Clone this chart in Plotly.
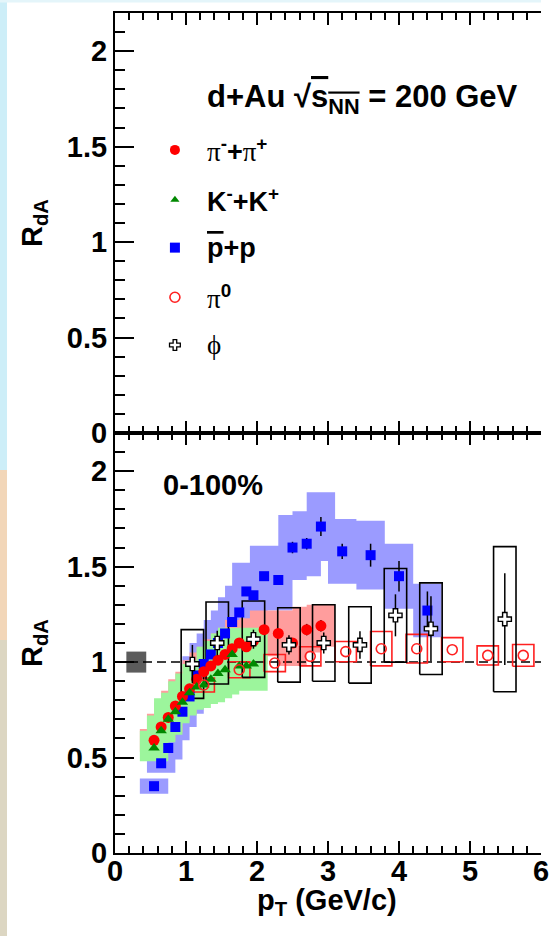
import plotly.graph_objects as go

# ---------------- data ----------------
pi_pt = [0.55, 0.65, 0.75, 0.85, 0.95, 1.05, 1.15, 1.25, 1.35, 1.45, 1.55, 1.65, 1.75, 1.85, 1.95, 2.1, 2.3, 2.5, 2.7, 2.9]
pi_r = [0.59, 0.66, 0.71, 0.77, 0.82, 0.86, 0.91, 0.95, 0.98, 1.01, 1.04, 1.07, 1.10, 1.08, 1.11, 1.17, 1.15, 1.10, 1.17, 1.19]
pi_stat = [0, 0, 0, 0, 0, 0, 0, 0, 0, 0, 0, 0, 0, 0, 0, 0.02, 0.02, 0.02, 0.03, 0.03]
pi_sys = [0.06, 0.07, 0.08, 0.08, 0.09, 0.09, 0.10, 0.10, 0.10, 0.11, 0.11, 0.11, 0.12, 0.12, 0.12, 0.10, 0.12, 0.12, 0.12, 0.11]

k_pt = [0.55, 0.65, 0.75, 0.85, 0.95, 1.05, 1.15, 1.25, 1.35, 1.45, 1.55, 1.65, 1.75, 1.85, 1.95]
k_r = [0.55, 0.64, 0.70, 0.74, 0.79, 0.84, 0.87, 0.88, 0.91, 0.94, 0.96, 1.04, 0.98, 0.98, 0.99]
k_sys_hi = [0.09, 0.08, 0.11, 0.10, 0.11, 0.10, 0.12, 0.13, 0.17, 0.17, 0.19, 0.14, 0.19, 0.20, 0.19]
k_sys_lo = [0.07, 0.06, 0.08, 0.06, 0.07, 0.09, 0.11, 0.10, 0.12, 0.13, 0.13, 0.17, 0.13, 0.13, 0.14]

p_pt = [0.55, 0.65, 0.75, 0.85, 0.95, 1.05, 1.15, 1.25, 1.35, 1.45, 1.55, 1.65, 1.75, 1.85, 1.95, 2.1, 2.3, 2.5, 2.7, 2.9, 3.2, 3.6, 4.0, 4.4]
p_r = [0.35, 0.47, 0.55, 0.66, 0.74, 0.82, 0.93, 0.99, 1.04, 1.10, 1.15, 1.21, 1.26, 1.37, 1.35, 1.45, 1.43, 1.60, 1.62, 1.71, 1.58, 1.56, 1.45, 1.27]
p_stat = [0, 0, 0, 0, 0, 0, 0, 0, 0, 0, 0, 0, 0, 0, 0, 0.02, 0.02, 0.03, 0.03, 0.05, 0.04, 0.06, 0.08, 0.10]
p_sys = [0.04, 0.05, 0.06, 0.07, 0.08, 0.09, 0.10, 0.11, 0.11, 0.12, 0.12, 0.13, 0.14, 0.15, 0.15, 0.16, 0.16, 0.17, 0.17, 0.18, 0.17, 0.18, 0.17, 0.14]

pi0_pt = [1.25, 1.75, 2.25, 2.75, 3.25, 3.75, 4.25, 4.75, 5.25, 5.75]
pi0_r = [0.88, 0.96, 0.995, 1.03, 1.055, 1.07, 1.07, 1.065, 1.035, 1.035]
pi0_sys = [0.037, 0.042, 0.045, 0.05, 0.053, 0.09, 0.075, 0.063, 0.05, 0.057]

phi_pt = [1.09, 1.44, 1.95, 2.45, 2.94, 3.45, 3.95, 4.45, 5.49]
phi_r = [0.99, 1.10, 1.12, 1.09, 1.10, 1.09, 1.245, 1.175, 1.225]
phi_stat = [0.10, 0.064, 0.05, 0.05, 0.055, 0.072, 0.11, 0.17, 0.24]
phi_sys = [0.18, 0.215, 0.20, 0.195, 0.20, 0.20, 0.245, 0.24, 0.38]

norm_x = [0.30]
norm_r = [1.0]
norm_err = [0.055]

SERIF = "<span style='font-family:Liberation Serif;font-weight:normal'>{}</span>"
legend_labels = [
    SERIF.format("π") + "<sup>-</sup>+" + SERIF.format("π") + "<sup>+</sup>",
    "K<sup>-</sup>+K<sup>+</sup>",
    "<span style='text-decoration:overline'>p</span>+p",
    SERIF.format("π") + "<sup>0</sup>",
    SERIF.format("ϕ"),
]
legend_y = [1.483, 1.222, 0.971, 0.711, 0.461]
legend_marker_x = 0.844
legend_text_x = 1.27
title_text = "d+Au √<span style='text-decoration:overline'>s<sub>NN</sub></span> = 200 GeV"
centrality_text = "0-100%"
x_title = "p<sub>T</sub> (GeV/c)"
y_title = "R<sub>dA</sub>"

# ---------------- helpers ----------------
def box_path(xs, ys, lo, hi, hw):
    bx, by = [], []
    for x, y, l, h in zip(xs, ys, lo, hi):
        bx += [x - hw, x + hw, x + hw, x - hw, x - hw, None]
        by += [y - l, y - l, y + h, y + h, y - l, None]
    return bx, by

FONT = "Liberation Sans"
BLUE_BAND = "#9b9bff"
RED_BAND = "#ff9d9d"
GREEN_BAND = "#9cf59c"

fig = go.Figure()

def band(xs, ys, lo, hi, color):
    bx, by = box_path(xs, ys, lo, hi, 0.2)
    fig.add_trace(go.Scatter(x=bx, y=by, xaxis="x2", yaxis="y2", mode="lines",
                             fill="toself", fillcolor=color, line=dict(width=0, color=color),
                             hoverinfo="skip", showlegend=False))

band(p_pt, p_r, p_sys, p_sys, BLUE_BAND)
band(pi_pt, pi_r, pi_sys, pi_sys, RED_BAND)
band(k_pt, k_r, k_sys_lo, k_sys_hi, GREEN_BAND)

# normalization box
nbx, nby = box_path(norm_x, norm_r, norm_err, norm_err, 0.14)
fig.add_trace(go.Scatter(x=nbx, y=nby, xaxis="x2", yaxis="y2", mode="lines", fill="toself",
                         fillcolor="#5c5c5c", line=dict(width=0, color="#5c5c5c"),
                         hoverinfo="skip", showlegend=False))

# dashed unity line
fig.add_trace(go.Scatter(x=[0, 6], y=[1, 1], xaxis="x2", yaxis="y2", mode="lines",
                         line=dict(color="black", width=1.5, dash="9px,5px"),
                         hoverinfo="skip", showlegend=False))

# open systematic boxes
bx, by = box_path(pi0_pt, pi0_r, pi0_sys, pi0_sys, 0.15)
fig.add_trace(go.Scatter(x=bx, y=by, xaxis="x2", yaxis="y2", mode="lines",
                         line=dict(color="#ff2020", width=1.6), hoverinfo="skip", showlegend=False))
bx, by = box_path(phi_pt, phi_r, phi_sys, phi_sys, 0.158)
fig.add_trace(go.Scatter(x=bx, y=by, xaxis="x2", yaxis="y2", mode="lines",
                         line=dict(color="black", width=1.6), hoverinfo="skip", showlegend=False))

# points
fig.add_trace(go.Scatter(x=p_pt, y=p_r, xaxis="x2", yaxis="y2", mode="markers",
                         marker=dict(symbol="square", size=10, color="#0000ff"),
                         error_y=dict(type="data", array=p_stat, color="black", thickness=1.5, width=0),
                         showlegend=False))
fig.add_trace(go.Scatter(x=pi_pt, y=pi_r, xaxis="x2", yaxis="y2", mode="markers",
                         marker=dict(symbol="circle", size=11, color="#ff0000"),
                         error_y=dict(type="data", array=pi_stat, color="black", thickness=1.5, width=0),
                         showlegend=False))
fig.add_trace(go.Scatter(x=k_pt, y=k_r, xaxis="x2", yaxis="y2", mode="markers",
                         marker=dict(symbol="triangle-up", size=10, color="#008800"),
                         showlegend=False))
fig.add_trace(go.Scatter(x=pi0_pt, y=pi0_r, xaxis="x2", yaxis="y2", mode="markers",
                         marker=dict(symbol="circle-open", size=10, color="#ff2020", line=dict(width=1.6)),
                         showlegend=False))
fig.add_trace(go.Scatter(x=phi_pt, y=phi_r, xaxis="x2", yaxis="y2", mode="markers",
                         marker=dict(symbol="cross", size=11, color="white", line=dict(color="black", width=1.4)),
                         error_y=dict(type="data", array=phi_stat, color="black", thickness=1.5, width=0),
                         showlegend=False))

# legend markers in top panel
leg_styles = [
    dict(symbol="circle", size=10, color="#ff0000"),
    dict(symbol="triangle-up", size=8, color="#008800"),
    dict(symbol="square", size=10, color="#0000ff"),
    dict(symbol="circle-open", size=10, color="#ff2020", line=dict(width=1.6)),
    dict(symbol="cross", size=9, color="white", line=dict(color="black", width=1.3)),
]
for yv, st in zip(legend_y, leg_styles):
    fig.add_trace(go.Scatter(x=[legend_marker_x], y=[yv], xaxis="x", yaxis="y", mode="markers",
                             marker=st, showlegend=False, hoverinfo="skip"))

annotations = []
for yv, lab in zip(legend_y, legend_labels):
    annotations.append(dict(x=legend_text_x, y=yv, xref="x", yref="y", text=lab, showarrow=False,
                            xanchor="left", yanchor="middle",
                            font=dict(family=FONT, size=27, color="black", weight="bold")))
annotations.append(dict(x=legend_text_x, y=1.75, xref="x", yref="y", text=title_text, showarrow=False,
                        xanchor="left", yanchor="middle",
                        font=dict(family=FONT, size=31, color="black", weight="bold")))
annotations.append(dict(x=0.646, y=1.93, xref="x2", yref="y2", text=centrality_text, showarrow=False,
                        xanchor="left", yanchor="middle",
                        font=dict(family=FONT, size=29, color="black", weight="bold")))
annotations.append(dict(x=0.497, y=-0.058, xref="paper", yref="paper", text=x_title, showarrow=False,
                        xanchor="center", yanchor="middle",
                        font=dict(family=FONT, size=29, color="black", weight="bold")))
for yc in [0.75, 0.25]:
    annotations.append(dict(x=-0.19, y=yc, xref="paper", yref="paper", text=y_title, showarrow=False,
                            textangle=-90, xanchor="center", yanchor="middle",
                            font=dict(family=FONT, size=29, color="black", weight="bold")))

TICKFONT = dict(family=FONT, size=29, color="black", weight="bold")
axis_common = dict(showgrid=False, zeroline=False, showline=True, linewidth=2, linecolor="black",
                   ticks="inside", tickwidth=1.5, tickcolor="black")
xax = dict(axis_common, mirror="ticks", range=[0, 6], tick0=0, dtick=1, ticklen=12,
           minor=dict(dtick=0.2, ticks="inside", ticklen=7, tickwidth=1.5, tickcolor="black"),
           tickfont=TICKFONT, ticklabelstandoff=-9, ticklabeloverflow="allow")
yax = dict(axis_common, mirror=False, range=[0, 2.2], tick0=0, dtick=0.5, ticklen=19,
           minor=dict(dtick=0.1, ticks="inside", ticklen=10, tickwidth=1.5, tickcolor="black"),
           tickfont=TICKFONT)
yax_right = dict(showgrid=False, zeroline=False, showline=False, ticks="inside", tickwidth=1.5,
                 tickcolor="black", range=[0, 2.2], tick0=0, dtick=0.5, ticklen=19,
                 minor=dict(dtick=0.1, ticks="inside", ticklen=10, tickwidth=1.5, tickcolor="black"),
                 showticklabels=False, side="right")

# slide background strip at left edge and top
shapes = [
    dict(type="rect", xref="paper", yref="paper", x0=-0.27, x1=-0.2535, y0=0.456, y1=1.02,
         fillcolor="#cdeef8", line=dict(width=0), layer="below"),
    dict(type="rect", xref="paper", yref="paper", x0=-0.27, x1=-0.2535, y0=0.2536, y1=0.456,
         fillcolor="#f2d6b8", line=dict(width=0), layer="below"),
    dict(type="rect", xref="paper", yref="paper", x0=-0.27, x1=-0.2535, y0=-0.12, y1=0.2536,
         fillcolor="#dcd6c2", line=dict(width=0), layer="below"),
    dict(type="rect", xref="paper", yref="paper", x0=-0.27, x1=1.0, y0=1.0125, y1=1.02,
         fillcolor="#e4f5fa", line=dict(width=0), layer="below"),
]

fig.update_layout(
    width=549, height=936,
    margin=dict(l=115, r=0, t=13, b=83),
    paper_bgcolor="white", plot_bgcolor="white",
    xaxis=dict(xax, domain=[0, 1], anchor="y", showticklabels=False),
    yaxis=dict(yax, domain=[0.5, 1], anchor="x"),
    yaxis3=dict(yax_right, domain=[0.5, 1], anchor="x", overlaying="y"),
    xaxis2=dict(xax, domain=[0, 1], anchor="y2"),
    yaxis2=dict(yax, domain=[0, 0.5], anchor="x2"),
    yaxis4=dict(yax_right, domain=[0, 0.5], anchor="x2", overlaying="y2"),
    annotations=annotations,
    shapes=shapes,
    showlegend=False,
)

fig.write_html("out.html")
